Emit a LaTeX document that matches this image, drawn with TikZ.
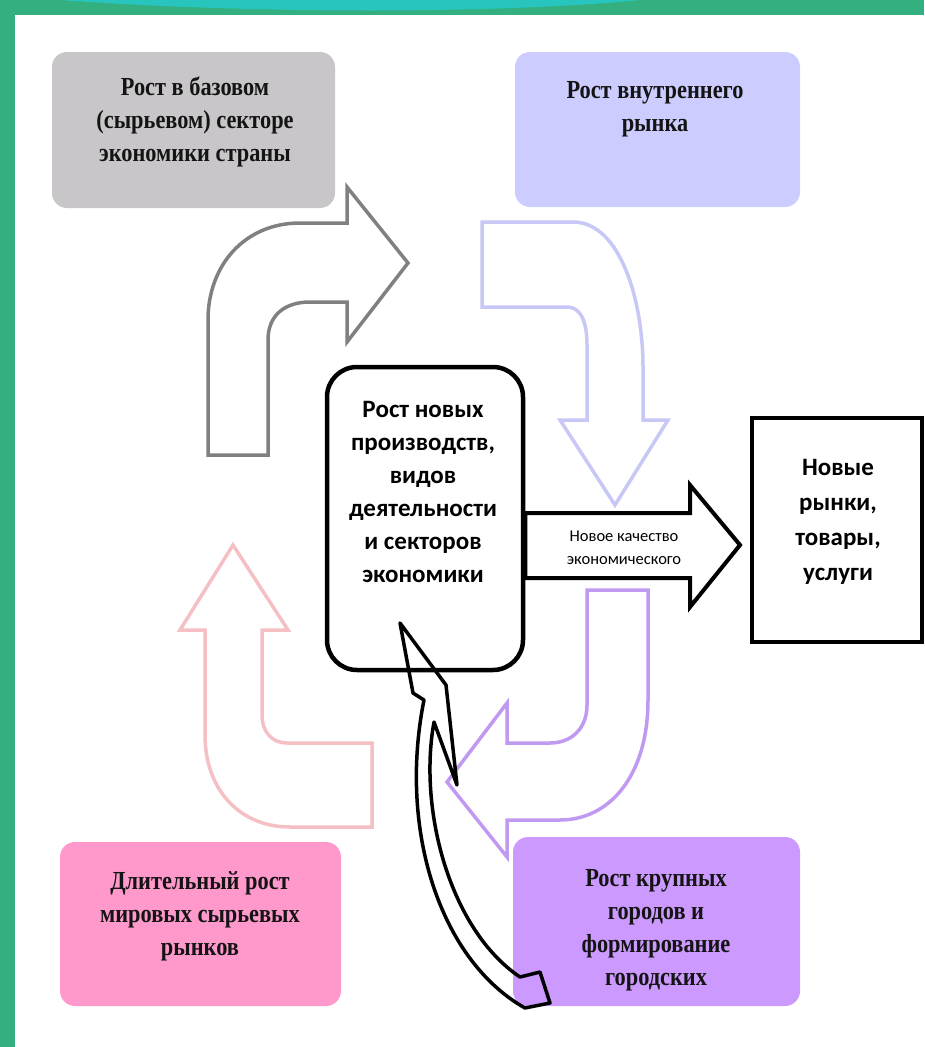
\documentclass[tikz,border=0pt]{standalone}
\usepackage{fontspec}
\setmainfont{Liberation Serif}
\newfontfamily\titlefont[FakeStretch=0.86]{Liberation Serif}
\newfontfamily\bodyfont{Carlito}
\definecolor{greenbg}{RGB}{52,176,128}
\definecolor{tealbg}{RGB}{40,196,190}
\definecolor{grayfill}{RGB}{200,198,200}
\definecolor{lavfill}{RGB}{204,204,255}
\definecolor{pinkfill}{RGB}{255,153,204}
\definecolor{purpfill}{RGB}{204,153,255}
\definecolor{grayline}{RGB}{128,128,128}
\definecolor{lavline}{RGB}{200,200,246}
\definecolor{pinkline}{RGB}{244,192,196}
\definecolor{purpline}{RGB}{192,154,240}
\tikzset{
  cbox/.style={rounded corners=15pt, inner sep=0pt},
  ttext/.style={align=center, font=\titlefont\bfseries\fontsize{26}{33}\selectfont, text=black!92},
  btext/.style={align=center, font=\bodyfont\bfseries\fontsize{25}{33}\selectfont},
  blockarrow/.style={line width=3.5pt, fill=white, line join=miter},
}
\begin{document}
\begin{tikzpicture}[x=1pt,y=-1pt]
\useasboundingbox (0,0) rectangle (924,1047);
\fill[white] (0,0) rectangle (924,1047);
% slide frame
\fill[greenbg] (0,0) rectangle (15,1047);
\fill[greenbg] (0,0) rectangle (924,15);
\fill[tealbg] (60,0) .. controls (250,14) and (500,14) .. (640,0) -- cycle;

% coloured boxes
\node[cbox, fill=grayfill, minimum width=283, minimum height=156] (base) at (193.5,130) {};
\node[cbox, fill=lavfill, minimum width=285, minimum height=155] (inner) at (657.5,129.5) {};
\node[cbox, fill=pinkfill, minimum width=281, minimum height=164] (world) at (200.5,924) {};
\node[cbox, fill=purpfill, minimum width=287, minimum height=169] (city) at (656.5,921.5) {};

\node[ttext] (baset) at (195,122) {Рост в базовом\\(сырьевом) секторе\\экономики страны};
\node[ttext] (innert) at (655,109) {Рост внутреннего\\рынка};
\node[ttext] (worldt) at (200,916) {Длительный рост\\мировых сырьевых\\рынков};
\node[ttext] (cityt) at (656,930) {Рост крупных\\городов и\\формирование\\городских};

% gray bent arrow
\draw[blockarrow, draw=grayline] (208,455) -- (268,455) -- (268,340)
  .. controls (268,315) and (285,302) .. (310,302) -- (347,302) -- (347,342)
  -- (408,263) -- (347,187) -- (347,223) -- (300,223)
  .. controls (245,223) and (208,265) .. (208,320) -- cycle;
% lavender bent arrow
\draw[blockarrow, draw=lavline] (482,222) -- (573,222)
  .. controls (620,222) and (643,300) .. (643,367) -- (643,420) -- (668,420)
  -- (615,505) -- (560,420) -- (587,420) -- (587,345)
  .. controls (587,320) and (580,307) .. (567,307) -- (482,307) -- cycle;
% pink bent arrow
\draw[blockarrow, draw=pinkline] (233,545) -- (288,630) -- (262,630) -- (262,715)
  .. controls (262,732) and (272,743) .. (287,743) -- (372,743) -- (372,827)
  -- (290,827) .. controls (240,827) and (205,790) .. (205,735) -- (205,630)
  -- (180,630) -- cycle;
% purple bent arrow
\draw[blockarrow, draw=purpline] (587,590) -- (648,590) -- (648,700)
  .. controls (648,775) and (610,820) .. (560,820) -- (507,820) -- (507,857)
  -- (447,782) -- (507,703) -- (507,743) -- (550,743)
  .. controls (572,743) and (587,728) .. (587,705) -- cycle;

% central box
\node[draw, line width=4.5pt, rounded corners=30pt, fill=white, minimum width=196, minimum height=303] (core) at (425,518.5) {};
\node[btext] (coret) at (423,492) {Рост новых\\производств,\\видов\\деятельности\\и секторов\\экономики};

% outcome box
\node[draw, line width=4pt, fill=white, minimum width=170, minimum height=224] (mkt) at (837,530) {};
\node[btext, font=\bodyfont\bfseries\fontsize{25}{35}\selectfont] (mktt) at (838,522) {Новые\\рынки,\\товары,\\услуги};

% black arrow from core to outcome
\coordinate (qa) at (core.east |- 0,545);
\coordinate (qb) at (mkt.west |- 0,545);
\draw[line width=4pt, fill=white, line join=miter] (qa |- 0,513) -- (690,513) -- (690,485)
  -- ([xshift=-10pt]qb) -- (690,607) -- (690,578) -- (qa |- 0,578) -- cycle;
\node[align=center, font=\bodyfont\fontsize{16.5}{23}\selectfont] (qt) at (624,548) {Новое качество\\экономического};

% thin black curved arrow from city box to core
\coordinate (tip) at (400,623);
\draw[line width=3.5pt, line join=round, black] (tip) -- (446,685) -- (457,785) -- (434,722)
  .. controls (418,810) and (450,930) .. (520,977) -- (540,972) -- (550,1003) -- (525,1008)
  .. controls (440,960) and (398,830) .. (424,700) -- (413,693) -- cycle;
\end{tikzpicture}
\end{document}
